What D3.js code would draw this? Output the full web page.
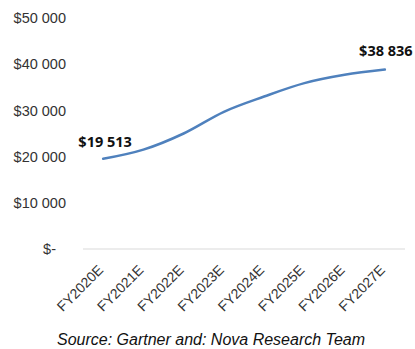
<!DOCTYPE html>
<html>
<head>
<meta charset="utf-8">
<script src="https://cdn.jsdelivr.net/npm/d3@7/dist/d3.min.js"></script>
<style>
  html, body { margin: 0; padding: 0; background: #fff; }
  svg { display: block; }
</style>
</head>
<body>
<svg id="chart" width="415" height="349"></svg>
<script>
// Market size forecast (USD)
const categories = ["FY2020E", "FY2021E", "FY2022E", "FY2023E", "FY2024E", "FY2025E", "FY2026E", "FY2027E"];
const values = [19513, 21500, 25000, 29700, 33000, 35900, 37700, 38836];
const yTicks = [0, 10000, 20000, 30000, 40000, 50000];
const sourceNote = "Source: Gartner and: Nova Research Team";

const svg = d3.select("#chart");

const x = d3.scaleBand().domain(categories).range([83, 405]).padding(0);
const y = d3.scaleLinear().domain([0, 50000]).range([249, 18]);

const fmtMoney = v => v === 0 ? "$-" : "$" + d3.format(",")(v).replace(/,/g, " ");

// Y axis labels (no axis line, no gridlines)
const yAxis = d3.axisLeft(y).tickValues(yTicks).tickSize(0).tickPadding(0).tickFormat(fmtMoney);
const gy = svg.append("g").attr("transform", "translate(66,0)").call(yAxis);
gy.select(".domain").remove();
gy.selectAll("text")
  .attr("font-family", "'Liberation Sans', Arial, sans-serif")
  .attr("font-size", "14.5px")
  .attr("fill", "#333")
  .attr("dx", d => d === 0 ? -10 : 0);

// Category baseline
svg.append("line")
  .attr("x1", 83).attr("x2", 405)
  .attr("y1", y(0)).attr("y2", y(0))
  .attr("stroke", "#d9d9d9").attr("stroke-width", 1);

// Rotated category labels
const xAxis = d3.axisBottom(x).tickSize(0).tickPadding(0);
const gx = svg.append("g").attr("transform", `translate(0,${y(0)})`).call(xAxis);
gx.select(".domain").remove();
gx.selectAll(".tick text")
  .attr("font-family", "'Liberation Sans', Arial, sans-serif")
  .attr("font-size", "14px")
  .attr("fill", "#333")
  .attr("text-anchor", "end")
  .attr("dy", null)
  .attr("y", null)
  .attr("transform", "translate(1,22) rotate(-45)");

// Forecast line
const line = d3.line()
  .x((d, i) => x(categories[i]) + x.bandwidth() / 2)
  .y(d => y(d))
  .curve(d3.curveMonotoneX);

svg.append("path")
  .datum(values)
  .attr("d", line)
  .attr("fill", "none")
  .attr("stroke", "#4f81bd")
  .attr("stroke-width", 2.5)
  .attr("stroke-linecap", "round");

// Value labels on first and last points
const ends = [0, values.length - 1];
svg.selectAll("text.value")
  .data(ends)
  .enter().append("text")
  .attr("class", "value")
  .attr("x", i => x(categories[i]) + x.bandwidth() / 2 + (i === 0 ? 2 : 1))
  .attr("y", i => y(values[i]) - (i === 0 ? 12 : 14))
  .attr("text-anchor", "middle")
  .attr("font-family", "'Open Sans', 'Liberation Sans', sans-serif")
  .attr("font-weight", "bold")
  .attr("font-size", "14.5px")
  .attr("fill", "#111")
  .text(i => fmtMoney(values[i]));

// Source note
svg.append("text")
  .attr("x", 57).attr("y", 345)
  .attr("font-family", "'Liberation Sans', Arial, sans-serif")
  .attr("font-style", "italic")
  .attr("font-size", "16px")
  .attr("fill", "#111")
  .text(sourceNote);
</script>
</body>
</html>
